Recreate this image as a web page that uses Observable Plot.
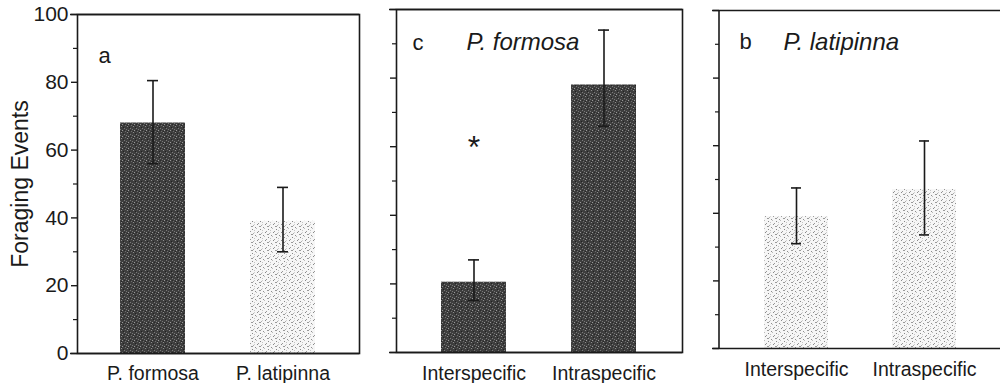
<!DOCTYPE html>
<html>
<head>
<meta charset="utf-8">
<script src="https://cdn.jsdelivr.net/npm/d3@7"></script>
<script src="https://cdn.jsdelivr.net/npm/@observablehq/plot@0.6"></script>
<style>
  html, body { margin: 0; padding: 0; background: #fff; overflow: hidden; }
  #wrap { position: relative; width: 1000px; height: 383px; overflow: hidden; background: #fff; }
  .cell { position: absolute; top: 0; height: 383px; overflow: hidden; background: #fff; }
</style>
</head>
<body>
<svg width="0" height="0" style="position:absolute">
  <defs>
    <pattern id="dark" width="6" height="6" patternUnits="userSpaceOnUse">
      <rect width="6" height="6" fill="#3e3e3e"/>
      <rect x="1" y="0" width="1" height="1" fill="#8c8c8c"/>
      <rect x="4" y="2" width="1" height="1" fill="#7a7a7a"/>
      <rect x="2" y="4" width="1" height="1" fill="#999"/>
      <rect x="5" y="5" width="1" height="1" fill="#6e6e6e"/>
      <rect x="0" y="3" width="1" height="1" fill="#777"/>
      <rect x="3" y="1" width="1" height="1" fill="#222"/>
      <rect x="1" y="5" width="1" height="1" fill="#262626"/>
      <rect x="4" y="4" width="1" height="1" fill="#2a2a2a"/>
    </pattern>
    <pattern id="light" width="8" height="8" patternUnits="userSpaceOnUse">
      <rect width="8" height="8" fill="#f6f6f6"/>
      <rect x="1" y="0" width="1" height="1" fill="#8a8a8a"/>
      <rect x="5" y="1" width="1" height="1" fill="#b0b0b0"/>
      <rect x="3" y="2" width="2" height="1" fill="#999"/>
      <rect x="7" y="3" width="1" height="1" fill="#8f8f8f"/>
      <rect x="0" y="4" width="1" height="1" fill="#bbb"/>
      <rect x="4" y="5" width="1" height="1" fill="#888"/>
      <rect x="6" y="6" width="1" height="1" fill="#c4c4c4"/>
      <rect x="2" y="7" width="1" height="1" fill="#9a9a9a"/>
      <rect x="6" y="0" width="1" height="1" fill="#d0d0d0"/>
    </pattern>
  </defs>
</svg>
<div id="wrap"></div>
<script>
// ---- data ----
const yLabel = "Foraging Events";
const yTicks = [0, 20, 40, 60, 80, 100];
const yMinorTicks = [10, 30, 50, 70, 90];

// panel a: both species
const aCategories = ["P. formosa", "P. latipinna"];
const aMeans = [68, 39];
const aLow = [56, 30];
const aHigh = [80.5, 49];

// panel c: P. formosa
const cCategories = ["Interspecific", "Intraspecific"];
const cMeans = [20.5, 78];
const cLow = [15.2, 66];
const cHigh = [27, 94];

// panel b: P. latipinna
const bCategories = ["Interspecific", "Intraspecific"];
const bMeans = [39, 47];
const bLow = [31, 33.6];
const bHigh = [47.5, 61.4];

const significance = [{panel: "c", category: "Interspecific", y: 62, text: "*"}];

// ---- drawing ----
const ink = "#1a1a1a";
const font = "'Liberation Sans', Arial, Helvetica, sans-serif";
const SVGNS = "http://www.w3.org/2000/svg";

// left spine only (panel b is open on the right, cut by the page edge)
function leftSpine(index, scales, values, dims) {
  const l = document.createElementNS(SVGNS, "line");
  const x = dims.marginLeft;
  l.setAttribute("x1", x); l.setAttribute("x2", x);
  l.setAttribute("y1", dims.marginTop); l.setAttribute("y2", dims.height - dims.marginBottom);
  l.setAttribute("stroke", ink); l.setAttribute("stroke-width", 1.6);
  return l;
}

function panel(o) {
  const rows = o.cats.map((c, i) => ({cat: c, mean: o.means[i], lo: o.low[i], hi: o.high[i], fill: o.fills[i]}));
  const marks = [
    Plot.barY(rows, {x: "cat", y: "mean", fill: d => `url(#${d.fill})`}),
    Plot.ruleX(rows, {x: "cat", y1: "lo", y2: "hi", stroke: ink, strokeWidth: 1.6}),
    Plot.tickY(rows, {x: "cat", y: "hi", insetLeft: 27, insetRight: 27, stroke: ink, strokeWidth: 1.6}),
    Plot.tickY(rows, {x: "cat", y: "lo", insetLeft: 27, insetRight: 27, stroke: ink, strokeWidth: 1.6}),
    o.openRight ? leftSpine : Plot.frame({stroke: ink, strokeWidth: 1.6}),
    Plot.ruleY([0, 100], {insetLeft: -7, stroke: ink, strokeWidth: 1.6}),
    Plot.axisY({ticks: yTicks, tickSize: 6, tickPadding: 3, fontSize: 21, label: null,
      text: o.yText ? undefined : null, stroke: ink, strokeWidth: 1.4}),
    Plot.axisY({ticks: yMinorTicks, tickSize: 4, text: null, label: null, stroke: ink, strokeWidth: 1.2}),
    Plot.axisX({tickSize: 0, tickPadding: o.xPad, fontSize: 19.5, label: null}),
    Plot.text([o.letter], {text: d => d, frameAnchor: "top-left", dx: o.letterDx, dy: o.letterDy,
      fontSize: 22, textAnchor: "start", lineAnchor: "middle"})
  ];
  if (o.title) marks.push(Plot.text([o.title], {text: d => d, frameAnchor: "top-left", dx: o.titleDx, dy: o.titleDy,
    fontSize: 24, fontStyle: "italic", textAnchor: "start", lineAnchor: "middle"}));
  if (o.yLabel) marks.push(Plot.text([o.yLabel], {text: d => d, frameAnchor: "left", dx: -57, rotate: -90,
    fontSize: 23, textAnchor: "middle", lineAnchor: "middle"}));
  const sig = significance.filter(s => s.panel === o.letter);
  if (sig.length) marks.push(Plot.text(sig, {x: "category", y: "y", text: "text", fontSize: 32, dy: 8}));
  const chart = Plot.plot({
    width: o.width, height: 383,
    marginLeft: o.ml, marginRight: o.mr, marginTop: o.mt, marginBottom: o.mb,
    x: {domain: o.cats, range: o.range, padding: 0.5, axis: null},
    y: {domain: [0, 100], axis: null},
    color: {type: "identity"},
    style: {fontFamily: font, color: ink, background: "transparent", overflow: "hidden", maxWidth: "none"},
    marks
  });
  chart.style.maxWidth = "none";
  chart.style.display = "block";
  const cell = document.createElement("div");
  cell.className = "cell";
  cell.style.left = o.left + "px";
  cell.style.width = o.width + "px";
  cell.appendChild(chart);
  document.getElementById("wrap").appendChild(cell);
}

panel({letter: "a", cats: aCategories, means: aMeans, low: aLow, high: aHigh, fills: ["dark", "light"],
  left: 0, width: 380, ml: 77, mr: 21, mt: 14, mb: 30, range: [54.5, 379.5], xPad: 13,
  yText: true, yLabel, letterDx: 21, letterDy: 41});

panel({letter: "c", title: "P. formosa", cats: cCategories, means: cMeans, low: cLow, high: cHigh, fills: ["dark", "dark"],
  left: 380, width: 320, ml: 16, mr: 18, mt: 9, mb: 31, range: [-4.5, 320.5], xPad: 14,
  yText: false, letterDx: 16, letterDy: 33, titleDx: 70, titleDy: 33});

panel({letter: "b", title: "P. latipinna", cats: bCategories, means: bMeans, low: bLow, high: bHigh, fills: ["light", "light"],
  left: 700, width: 300, ml: 19, mr: 0, mt: 10, mb: 35, range: [-0.5, 319.5], xPad: 14, openRight: true,
  yText: false, letterDx: 20, letterDy: 31, titleDx: 64, titleDy: 32});
</script>
</body>
</html>
